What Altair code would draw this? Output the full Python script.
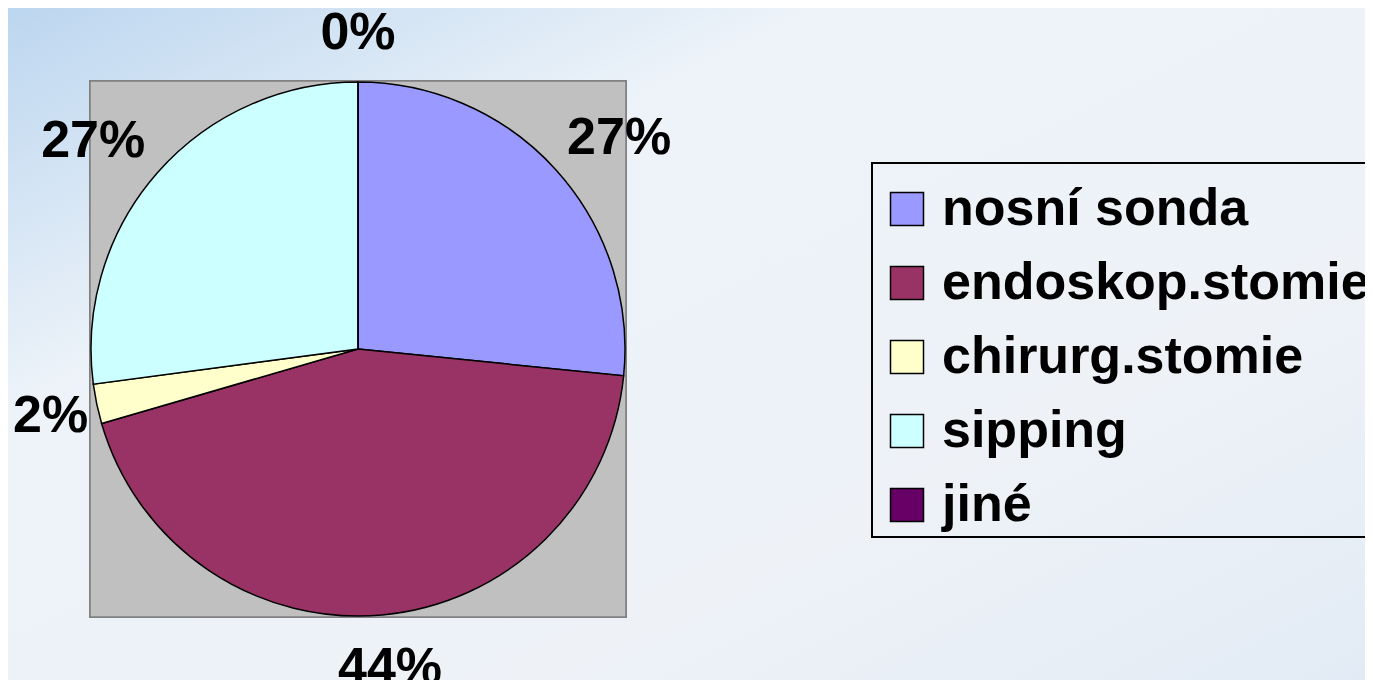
import altair as alt
import pandas as pd

categories = ["nosní sonda", "endoskop.stomie", "chirurg.stomie", "sipping", "jiné"]
values = [26.6, 43.9, 2.4, 27.1, 0.0]
colors = ["#9999FF", "#993366", "#FFFFCC", "#CCFFFF", "#660066"]

df = pd.DataFrame({"cat": categories, "value": values, "idx": list(range(len(categories)))})

W, H = 1357, 672
CX, CY, R = 350, 341, 267
FONT = "Liberation Sans"
LABEL_SIZE = 52

page_bg = alt.Chart(df).mark_rect(
    color=alt.Gradient(
        gradient="linear", x1=0, y1=0, x2=1, y2=1,
        stops=[
            alt.GradientStop(offset=0, color="#bcd6ef"),
            alt.GradientStop(offset=0.3, color="#edf3f9"),
            alt.GradientStop(offset=0.7, color="#eef2f7"),
            alt.GradientStop(offset=1, color="#e2ebf5"),
        ],
    )
).encode(x=alt.value(0), x2=alt.value(W), y=alt.value(0), y2=alt.value(H))

plot_bg = alt.Chart(df).mark_rect(fill="#C0C0C0", stroke="#808080", strokeWidth=1.5).encode(
    x=alt.value(CX - R - 1), x2=alt.value(CX + R + 1),
    y=alt.value(CY - R - 1), y2=alt.value(CY + R + 1),
)

arcs = alt.Chart(df).mark_arc(radius=R, stroke="black", strokeWidth=1.5).encode(
    theta=alt.Theta("value:Q", stack=True),
    color=alt.Color(
        "cat:N",
        scale=alt.Scale(domain=categories, range=colors),
        sort=categories,
        legend=alt.Legend(
            title=None,
            orient="none",
            legendX=873,
            legendY=175,
            symbolType="square",
            symbolSize=1089,
            symbolStrokeColor="black",
            symbolStrokeWidth=1.5,
            labelFont=FONT,
            labelFontSize=52,
            labelFontWeight="bold",
            labelColor="black",
            labelOffset=9,
            labelLimit=1000,
            rowPadding=22,
            padding=0,
        ),
    ),
    order=alt.Order("idx:Q"),
    x=alt.value(CX),
    y=alt.value(CY),
)

# Outside-end labels: the label box sits just outside the pie at each slice's mid
# angle, and is kept inside the chart area horizontally.
labels = (
    alt.Chart(df)
    .transform_joinaggregate(total="sum(value)")
    .transform_window(cum="sum(value)", sort=[alt.SortField("idx")], frame=[None, 0])
    .transform_calculate(
        pct="format(datum.value / datum.total, '.0%')",
        mid="(datum.cum - datum.value / 2) / datum.total * 2 * PI",
    )
    .transform_calculate(
        hw=f"0.5 * {LABEL_SIZE} * (0.556 * (length(datum.pct) - 1) + 0.889)",
        hh="18",
    )
    .transform_calculate(
        lx0=f"({R} + 33) * sin(datum.mid) + datum.hw * sin(datum.mid)",
        ly=f"-({R} + 33) * cos(datum.mid) - datum.hh * cos(datum.mid)",
    )
    .transform_calculate(
        lx=f"min(max(datum.lx0, -{CX} + 5 + datum.hw), {W - CX} - 5 - datum.hw)",
    )
    .transform_calculate(
        lr="sqrt(datum.lx * datum.lx + datum.ly * datum.ly)",
        lth="atan2(datum.lx, -datum.ly)",
    )
    .mark_text(font=FONT, fontSize=LABEL_SIZE, fontWeight="bold", color="black",
               align="center", baseline="middle", dy=2)
    .encode(
        theta=alt.Theta("lth:Q", scale=None, stack=None),
        radius=alt.Radius("lr:Q", scale=None),
        text="pct:N",
        x=alt.value(CX),
        y=alt.value(CY),
    )
)

legend_box = alt.Chart(df).mark_rect(fill="white", fillOpacity=0, stroke="black", strokeWidth=1.5).encode(
    x=alt.value(864), x2=alt.value(1420), y=alt.value(155), y2=alt.value(529),
)

chart = alt.layer(page_bg, plot_bg, arcs, labels, legend_box).properties(
    width=W, height=H, autosize=alt.AutoSizeParams(type="none"), padding=0,
    background="#e6eef7",
).configure_view(stroke=None)

chart.save("out.html", embed_options={"renderer": "svg", "actions": False})
